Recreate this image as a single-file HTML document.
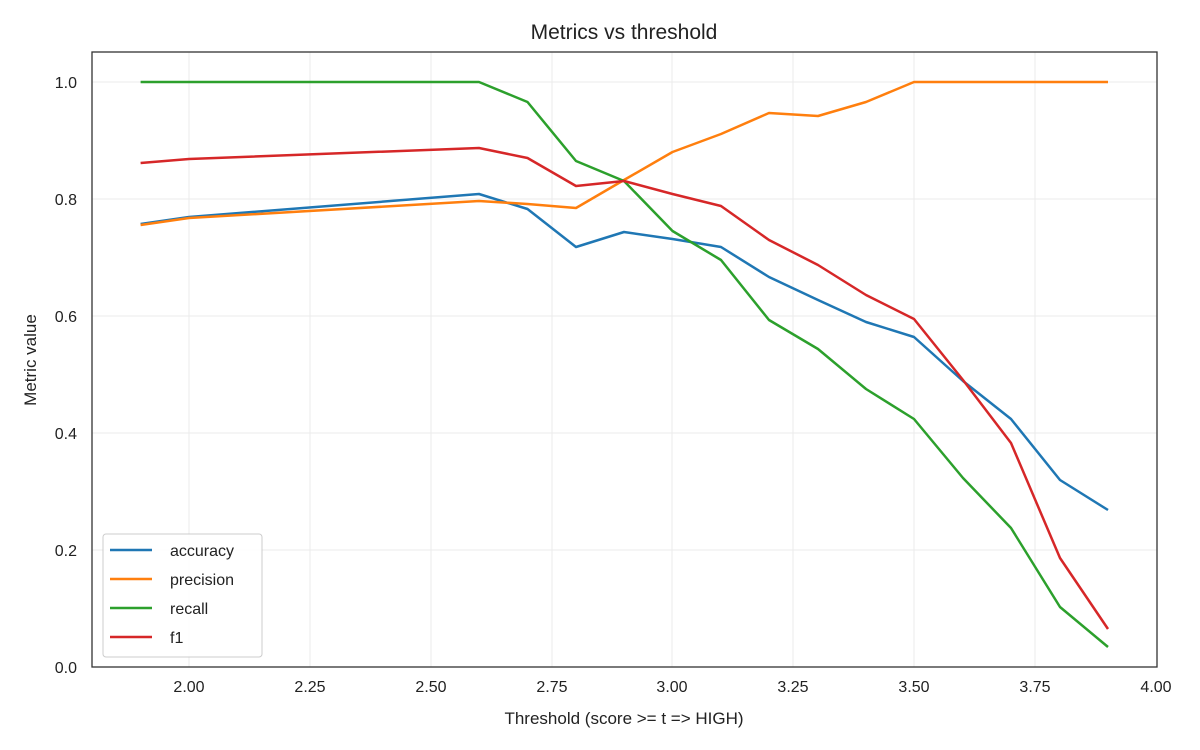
<!DOCTYPE html>
<html><head><meta charset="utf-8"><style>body{margin:0;background:#fff}svg{display:block}text{font-family:"Liberation Sans",sans-serif;fill:#222}</style></head>
<body>
<svg width="1200" height="750" viewBox="0 0 1200 750">
<g stroke="#ebebeb" stroke-width="1">
<line x1="189" y1="52" x2="189" y2="667"/><line x1="310" y1="52" x2="310" y2="667"/><line x1="431" y1="52" x2="431" y2="667"/><line x1="552" y1="52" x2="552" y2="667"/><line x1="672" y1="52" x2="672" y2="667"/><line x1="793" y1="52" x2="793" y2="667"/><line x1="914" y1="52" x2="914" y2="667"/><line x1="1035" y1="52" x2="1035" y2="667"/>
<line x1="92" y1="550" x2="1157" y2="550"/><line x1="92" y1="433" x2="1157" y2="433"/><line x1="92" y1="316" x2="1157" y2="316"/><line x1="92" y1="199" x2="1157" y2="199"/><line x1="92" y1="82" x2="1157" y2="82"/>
</g>
<g fill="none" stroke-width="2.5" stroke-linejoin="round">
<polyline stroke="#1f77b4" points="140.6,224 189,217 479,194 527.5,209 576,247 624,232 672.5,239 721,247 769,277 818,300 866,322 914,337 963,381 1011,419 1060,480 1108,510"/>
<polyline stroke="#ff7f0e" points="140.6,225 189,218 479,201 527.5,204 576,208 624,180 672.5,152 721,134 769,113 818,116 866,102 914,82 963,82 1011,82 1060,82 1108,82"/>
<polyline stroke="#2ca02c" points="140.6,82 189,82 479,82 527.5,102 576,161 624,181 672.5,231 721,260 769,320 818,349 866,389 914,419 963,478 1011,528 1060,607 1108,647"/>
<polyline stroke="#d62728" points="140.6,163 189,159 479,148 527.5,158 576,186 624,181 672.5,194 721,206 769,240 818,265 866,295 914,319 963,380 1011,443 1060,558 1108,629"/>
</g>
<rect x="92" y="52" width="1065" height="615" fill="none" stroke="#333" stroke-width="1.3"/>
<g font-size="16" text-anchor="middle">
<text x="189" y="692">2.00</text><text x="310" y="692">2.25</text><text x="431" y="692">2.50</text><text x="552" y="692">2.75</text><text x="672" y="692">3.00</text><text x="793" y="692">3.25</text><text x="914" y="692">3.50</text><text x="1035" y="692">3.75</text><text x="1156" y="692">4.00</text>
</g>
<g font-size="16" text-anchor="end">
<text x="77" y="673">0.0</text><text x="77" y="556">0.2</text><text x="77" y="439">0.4</text><text x="77" y="322">0.6</text><text x="77" y="205">0.8</text><text x="77" y="88">1.0</text>
</g>
<text x="624" y="724" font-size="17" text-anchor="middle">Threshold (score &gt;= t =&gt; HIGH)</text>
<text transform="translate(36,360) rotate(-90)" font-size="17" text-anchor="middle">Metric value</text>
<text x="624" y="39" font-size="21" text-anchor="middle">Metrics vs threshold</text>
<rect x="103" y="534" width="159" height="123" rx="3" fill="#fff" fill-opacity="0.85" stroke="#ccc"/>
<g stroke-width="2.5">
<line x1="110" y1="550" x2="152" y2="550" stroke="#1f77b4"/><line x1="110" y1="579" x2="152" y2="579" stroke="#ff7f0e"/><line x1="110" y1="608" x2="152" y2="608" stroke="#2ca02c"/><line x1="110" y1="637" x2="152" y2="637" stroke="#d62728"/>
</g>
<g font-size="16"><text x="170" y="556">accuracy</text><text x="170" y="585">precision</text><text x="170" y="614">recall</text><text x="170" y="643">f1</text></g>
</svg>
</body></html>
